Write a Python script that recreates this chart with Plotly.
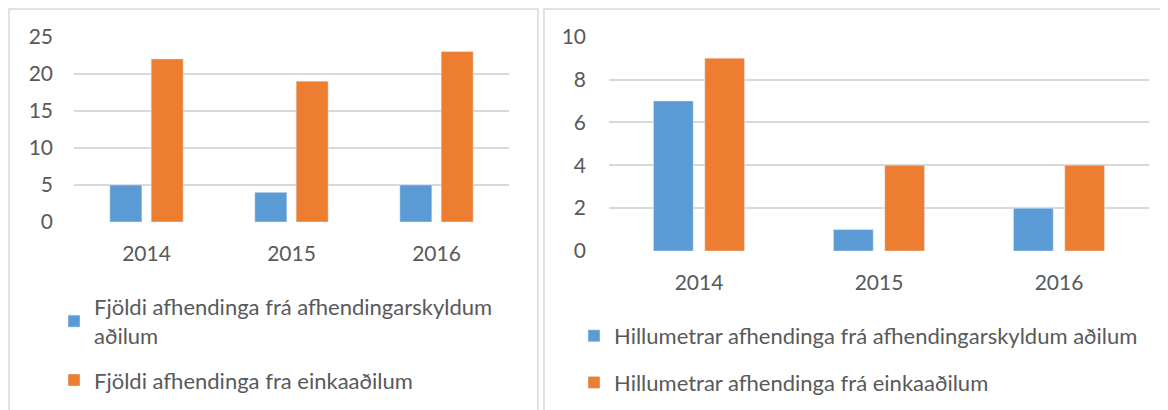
import plotly.graph_objects as go

ar = ["2014", "2015", "2016"]

fjoldi_skyldum = [5, 4, 5]
fjoldi_einka = [22, 19, 23]

hillumetrar_skyldum = [7, 1, 2]
hillumetrar_einka = [9, 4, 4]

BLUE = "#5B9BD5"
ORANGE = "#ED7D31"
GREY = "#595959"
GRID = "#D9D9D9"

# the page body has an 8px margin, so the figure starts at (8, 8) in the window
OFF = 8
W, H = 1168 - OFF, 410 - OFF


def px_x(v):
    return (v - OFF) / W


def px_y(v):
    return 1 - (v - OFF) / H


fig = go.Figure()

fig.add_trace(go.Bar(x=ar, y=fjoldi_skyldum, name="Fjöldi afhendinga frá afhendingarskyldum<br>aðilum",
                     marker_color=BLUE, xaxis="x", yaxis="y", legend="legend", legendgroup="a"))
fig.add_trace(go.Bar(x=ar, y=fjoldi_einka, name="Fjöldi afhendinga fra einkaaðilum",
                     marker_color=ORANGE, xaxis="x", yaxis="y", legend="legend", legendgroup="b"))
fig.add_trace(go.Bar(x=ar, y=hillumetrar_skyldum, name="Hillumetrar afhendinga frá afhendingarskyldum aðilum",
                     marker_color=BLUE, xaxis="x2", yaxis="y2", legend="legend2", legendgroup="c"))
fig.add_trace(go.Bar(x=ar, y=hillumetrar_einka, name="Hillumetrar afhendinga frá einkaaðilum",
                     marker_color=ORANGE, xaxis="x2", yaxis="y2", legend="legend2", legendgroup="d"))

tick_font = dict(family="Lato, sans-serif", size=21, color=GREY)
leg_font = dict(family="Lato, sans-serif", size=22, color=GREY)

axis_x = dict(showgrid=False, showline=False, zeroline=False, ticks="", tickfont=tick_font,
              ticklabelstandoff=17, fixedrange=True)
axis_y = dict(showgrid=True, gridcolor=GRID, gridwidth=1.5, zeroline=False, showline=False,
              ticks="", tickfont=tick_font, fixedrange=True)

fig.update_layout(
    width=W, height=H,
    margin=dict(l=0, r=0, t=0, b=0, autoexpand=False),
    paper_bgcolor="white", plot_bgcolor="white",
    font=tick_font,
    barmode="group", bargap=0.43, bargroupgap=0.225,
    xaxis=dict(axis_x, domain=[px_x(74), px_x(509)], anchor="y"),
    yaxis=dict(axis_y, domain=[px_y(222), px_y(36.7)], range=[0, 25], dtick=5,
               ticklabelstandoff=20, anchor="x"),
    xaxis2=dict(axis_x, domain=[px_x(609), px_x(1149)], anchor="y2"),
    yaxis2=dict(axis_y, domain=[px_y(251), px_y(36.7)], range=[0, 10], dtick=2,
                ticklabelstandoff=22, anchor="x2"),
    legend=dict(x=px_x(54), y=px_y(286), xanchor="left", yanchor="top",
                font=leg_font, tracegroupgap=13, traceorder="grouped",
                itemwidth=30, bgcolor="rgba(0,0,0,0)"),
    legend2=dict(x=px_x(574), y=px_y(315), xanchor="left", yanchor="top",
                 font=leg_font, tracegroupgap=15, traceorder="grouped",
                 itemwidth=30, bgcolor="rgba(0,0,0,0)"),
    shapes=[
        dict(type="rect", xref="paper", yref="paper", x0=px_x(9), x1=px_x(538),
             y0=-0.05, y1=px_y(9), line=dict(color=GRID, width=1.5)),
        dict(type="rect", xref="paper", yref="paper", x0=px_x(544), x1=1.05,
             y0=-0.05, y1=px_y(9), line=dict(color=GRID, width=1.5)),
    ],
)

fig.write_html("out.html")
